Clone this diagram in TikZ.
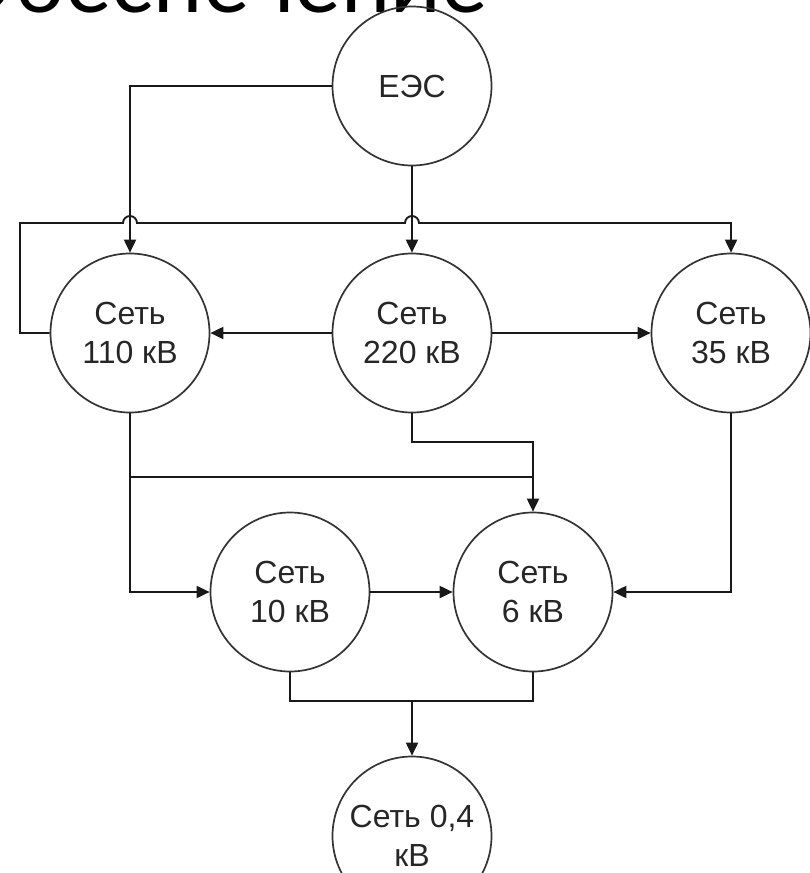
\documentclass[tikz,border=0pt]{standalone}
\usepackage{fontspec}
\setmainfont{Liberation Sans}
\newfontfamily\titlefont{Lato}
\usetikzlibrary{arrows.meta}
\begin{document}
\begin{tikzpicture}[x=1pt,y=-1pt,
  net/.style={circle, draw=black!80, line width=1.7pt, minimum size=159pt, inner sep=0pt, align=center, font=\fontsize{32}{39}\selectfont, text=black!85},
  conn/.style={line width=1.9pt, draw=black!90},
  arr/.style={conn, -{Triangle[length=13pt,width=12pt]}},
]
\useasboundingbox (0,0) rectangle (809,873);
\node[anchor=base east, font=\titlefont\fontsize{88}{90}\selectfont, inner sep=0pt] (title) at (488,12) {Обеспечение};

\node[net] (ees) at (412,86) {ЕЭС};
\node[net] (n110) at (130,333) {Сеть\\110 кВ};
\node[net] (n220) at (412,333) {Сеть\\220 кВ};
\node[net] (n35) at (731,333) {Сеть\\35 кВ};
\node[net] (n10) at (290,592) {Сеть\\10 кВ};
\node[net] (n6) at (533,592) {Сеть\\6 кВ};
\node[net] (n04) at (412,836) {Сеть 0,4\\кВ};

\draw[arr] (ees.west) -| (n110.north);
\draw[arr] (ees.south) -- (n220.north);
\draw[arr] (n110.west) -- (20,333) -- (20,223) -- (123,223)
  arc[start angle=180,end angle=0,radius=7pt] -- (405,223)
  arc[start angle=180,end angle=0,radius=7pt] -- (731,223) -- (n35.north);
\draw[arr] (n220.west) -- (n110.east);
\draw[arr] (n220.east) -- (n35.west);
\draw[arr] (n110.south) |- (n10.west);
\coordinate (j1) at (130,477);
\coordinate (j2) at (533,477);
\draw[conn] (j1) -- (j2);
\draw[arr] (n220.south) -- (412,442) -| (n6.north);
\draw[arr] (n35.south) |- (n6.east);
\draw[arr] (n10.east) -- (n6.west);
\coordinate (b1) at (290,701);
\coordinate (b2) at (533,701);
\coordinate (bm) at (412,701);
\draw[conn] (n10.south) -- (b1) -- (b2) -- (n6.south);
\draw[arr] (bm) -- (n04.north);
\end{tikzpicture}
\end{document}
